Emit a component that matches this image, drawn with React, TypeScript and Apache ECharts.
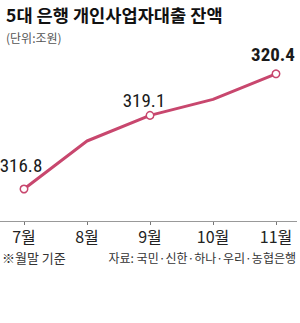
import React, { useEffect, useRef } from "react";
import * as echarts from "echarts";

const categories = ["7월", "8월", "9월", "10월", "11월"];
const values = [316.8, 318.3, 319.1, 319.6, 320.4];
const labeledIdx = [0, 2, 4];
const labelOffsets: Record<number, [number, number]> = { 0: [-3, -5], 2: [-6, 4], 4: [-3, 0] };
const title = "5대 은행 개인사업자대출 잔액";
const unit = "(단위:조원)";
const noteLeft = "※월말 기준";
const noteRight = "자료: 국민·신한·하나·우리·농협은행";

const FONT = "'Noto Sans CJK KR', 'Noto Sans', sans-serif";
const NUMFONT = "'Liberation Sans Narrow', 'Roboto Condensed', 'Liberation Sans', sans-serif";
const AXIS_Y = 221;

export default function App() {
  const ref = useRef<HTMLDivElement>(null);
  useEffect(() => {
    if (!ref.current) return;
    const chart = echarts.init(ref.current, null, { renderer: "svg" });
    const data = values.map((v, i) => {
      const shown = labeledIdx.includes(i);
      const last = i === values.length - 1;
      return {
        value: v,
        symbolSize: shown ? 7.5 : 0,
        label: {
          show: shown,
          position: "top",
          offset: labelOffsets[i] || [0, 0],
          formatter: (p: any) => p.value.toFixed(1),
          fontSize: 19,
          fontWeight: last ? "bold" : "normal",
          color: "#1a1a1a",
          fontFamily: NUMFONT,
        },
      };
    });
    chart.setOption({
      animation: false,
      backgroundColor: "#ffffff",
      textStyle: { fontFamily: FONT },
      title: [
        {
          text: title,
          left: 1,
          top: 1,
          textStyle: { fontSize: 17.6, fontWeight: "bold", color: "#111", fontFamily: FONT },
        },
        {
          text: unit,
          left: 1,
          top: 26,
          textStyle: { fontSize: 12, fontWeight: "normal", color: "#555", fontFamily: FONT },
        },
      ],
      graphic: [
        {
          type: "line",
          shape: { x1: 0, y1: AXIS_Y + 0.5, x2: 297, y2: AXIS_Y + 0.5 },
          style: { stroke: "#999", lineWidth: 1 },
          z: 1,
        },
        {
          type: "text",
          left: 2,
          top: 251,
          style: { text: noteLeft, fontSize: 13, fill: "#333", fontFamily: FONT },
        },
        {
          type: "text",
          right: 4,
          top: 251,
          style: { text: noteRight, fontSize: 12, fill: "#333", fontFamily: FONT },
        },
      ],
      grid: { left: 24, right: 24, top: 61, bottom: 323 - AXIS_Y, containLabel: false },
      xAxis: {
        type: "category",
        data: categories,
        boundaryGap: false,
        axisLine: { show: false },
        axisTick: { show: true, length: 4, lineStyle: { color: "#777" } },
        axisLabel: { fontSize: 16, color: "#222", margin: 7, fontFamily: FONT },
      },
      yAxis: {
        type: "value",
        min: 315.8,
        max: 320.8,
        show: false,
        splitLine: { show: false },
      },
      series: [
        {
          type: "line",
          data,
          symbol: "circle",
          itemStyle: { color: "#ffffff", borderColor: "#c8476e", borderWidth: 1.5 },
          lineStyle: { color: "#c8476e", width: 3 },
        },
      ],
    });
    return () => chart.dispose();
  }, []);
  return <div ref={ref} style={{ width: 300, height: 323, position: "absolute", left: 0, top: 0 }} />;
}
